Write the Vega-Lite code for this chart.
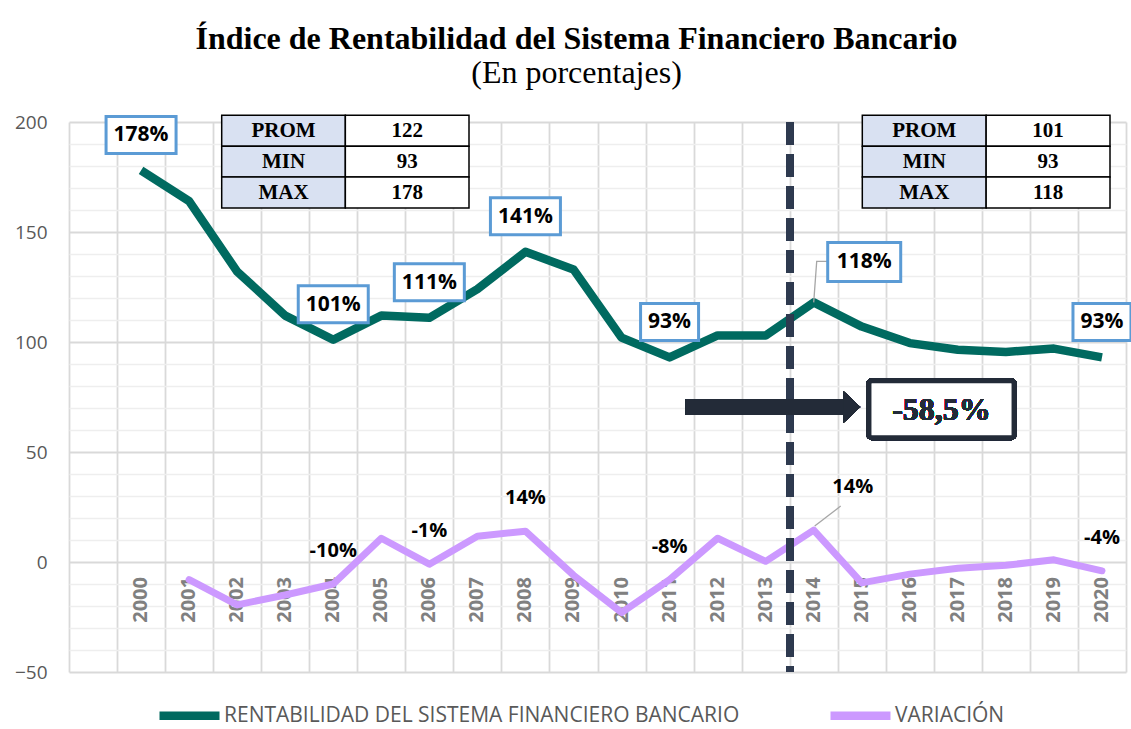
{
  "$schema": "https://vega.github.io/schema/vega-lite/v6.json",
  "width": 1057,
  "height": 550,
  "autosize": {"type": "none"},
  "padding": {"left": 69, "top": 122, "right": 5, "bottom": 57},
  "background": "white",
  "config": {"view": {"stroke": null}},
  "title": {
    "text": "Índice de Rentabilidad del Sistema Financiero Bancario",
    "subtitle": "(En porcentajes)",
    "anchor": "middle",
    "dx": -21,
    "offset": 20,
    "font": "Liberation Serif",
    "fontSize": 32,
    "fontWeight": "bold",
    "color": "black",
    "subtitleFont": "Liberation Serif",
    "subtitleFontSize": 32,
    "subtitleFontWeight": "normal",
    "subtitleColor": "black",
    "subtitlePadding": 2
  },
  "datasets": {
    "series": [
      {"anio": 2000, "serie": "RENTABILIDAD DEL SISTEMA FINANCIERO BANCARIO", "valor": 178, "etiqueta": "178%"},
      {"anio": 2001, "serie": "RENTABILIDAD DEL SISTEMA FINANCIERO BANCARIO", "valor": 164, "etiqueta": null},
      {"anio": 2002, "serie": "RENTABILIDAD DEL SISTEMA FINANCIERO BANCARIO", "valor": 132, "etiqueta": null},
      {"anio": 2003, "serie": "RENTABILIDAD DEL SISTEMA FINANCIERO BANCARIO", "valor": 112, "etiqueta": null},
      {"anio": 2004, "serie": "RENTABILIDAD DEL SISTEMA FINANCIERO BANCARIO", "valor": 101, "etiqueta": "101%"},
      {"anio": 2005, "serie": "RENTABILIDAD DEL SISTEMA FINANCIERO BANCARIO", "valor": 112, "etiqueta": null},
      {"anio": 2006, "serie": "RENTABILIDAD DEL SISTEMA FINANCIERO BANCARIO", "valor": 111, "etiqueta": "111%"},
      {"anio": 2007, "serie": "RENTABILIDAD DEL SISTEMA FINANCIERO BANCARIO", "valor": 124, "etiqueta": null},
      {"anio": 2008, "serie": "RENTABILIDAD DEL SISTEMA FINANCIERO BANCARIO", "valor": 141, "etiqueta": "141%"},
      {"anio": 2009, "serie": "RENTABILIDAD DEL SISTEMA FINANCIERO BANCARIO", "valor": 133, "etiqueta": null},
      {"anio": 2010, "serie": "RENTABILIDAD DEL SISTEMA FINANCIERO BANCARIO", "valor": 102, "etiqueta": null},
      {"anio": 2011, "serie": "RENTABILIDAD DEL SISTEMA FINANCIERO BANCARIO", "valor": 93, "etiqueta": "93%"},
      {"anio": 2012, "serie": "RENTABILIDAD DEL SISTEMA FINANCIERO BANCARIO", "valor": 103, "etiqueta": null},
      {"anio": 2013, "serie": "RENTABILIDAD DEL SISTEMA FINANCIERO BANCARIO", "valor": 103, "etiqueta": null},
      {"anio": 2014, "serie": "RENTABILIDAD DEL SISTEMA FINANCIERO BANCARIO", "valor": 118, "etiqueta": "118%"},
      {"anio": 2015, "serie": "RENTABILIDAD DEL SISTEMA FINANCIERO BANCARIO", "valor": 107, "etiqueta": null},
      {"anio": 2016, "serie": "RENTABILIDAD DEL SISTEMA FINANCIERO BANCARIO", "valor": 99.5, "etiqueta": null},
      {"anio": 2017, "serie": "RENTABILIDAD DEL SISTEMA FINANCIERO BANCARIO", "valor": 96.5, "etiqueta": null},
      {"anio": 2018, "serie": "RENTABILIDAD DEL SISTEMA FINANCIERO BANCARIO", "valor": 95.5, "etiqueta": null},
      {"anio": 2019, "serie": "RENTABILIDAD DEL SISTEMA FINANCIERO BANCARIO", "valor": 97, "etiqueta": null},
      {"anio": 2020, "serie": "RENTABILIDAD DEL SISTEMA FINANCIERO BANCARIO", "valor": 93, "etiqueta": "93%"},
      {"anio": 2001, "serie": "VARIACIÓN", "valor": -8, "etiqueta": null},
      {"anio": 2002, "serie": "VARIACIÓN", "valor": -19.5, "etiqueta": null},
      {"anio": 2003, "serie": "VARIACIÓN", "valor": -15, "etiqueta": null},
      {"anio": 2004, "serie": "VARIACIÓN", "valor": -10, "etiqueta": "-10%"},
      {"anio": 2005, "serie": "VARIACIÓN", "valor": 10.8, "etiqueta": null},
      {"anio": 2006, "serie": "VARIACIÓN", "valor": -1, "etiqueta": "-1%"},
      {"anio": 2007, "serie": "VARIACIÓN", "valor": 11.7, "etiqueta": null},
      {"anio": 2008, "serie": "VARIACIÓN", "valor": 14, "etiqueta": "14%"},
      {"anio": 2009, "serie": "VARIACIÓN", "valor": -6, "etiqueta": null},
      {"anio": 2010, "serie": "VARIACIÓN", "valor": -23, "etiqueta": null},
      {"anio": 2011, "serie": "VARIACIÓN", "valor": -8, "etiqueta": "-8%"},
      {"anio": 2012, "serie": "VARIACIÓN", "valor": 10.8, "etiqueta": null},
      {"anio": 2013, "serie": "VARIACIÓN", "valor": 0.3, "etiqueta": null},
      {"anio": 2014, "serie": "VARIACIÓN", "valor": 14.5, "etiqueta": "14%"},
      {"anio": 2015, "serie": "VARIACIÓN", "valor": -9.5, "etiqueta": null},
      {"anio": 2016, "serie": "VARIACIÓN", "valor": -5.5, "etiqueta": null},
      {"anio": 2017, "serie": "VARIACIÓN", "valor": -2.8, "etiqueta": null},
      {"anio": 2018, "serie": "VARIACIÓN", "valor": -1.5, "etiqueta": null},
      {"anio": 2019, "serie": "VARIACIÓN", "valor": 1, "etiqueta": null},
      {"anio": 2020, "serie": "VARIACIÓN", "valor": -4, "etiqueta": "-4%"}
    ],
    "stats": [
      {"tabla": "2000-2013", "stat": "PROM", "valor": 122},
      {"tabla": "2000-2013", "stat": "MIN", "valor": 93},
      {"tabla": "2000-2013", "stat": "MAX", "valor": 178},
      {"tabla": "2014-2020", "stat": "PROM", "valor": 101},
      {"tabla": "2014-2020", "stat": "MIN", "valor": 93},
      {"tabla": "2014-2020", "stat": "MAX", "valor": 118}
    ]
  },
  "resolve": {"scale": {"x": "independent", "y": "independent"}},
  "layer": [
    {
      "data": {"name": "series"},
      "transform": [{"filter": "datum.serie === 'RENTABILIDAD DEL SISTEMA FINANCIERO BANCARIO'"}],
      "mark": {"type": "text", "angle": 270, "align": "right", "baseline": "middle", "dx": -15, "font": "Open Sans", "fontWeight": "bold", "fontSize": 20, "color": "#808080"},
      "encoding": {
        "x": {
          "field": "anio", "type": "quantitative",
          "scale": {"domain": [1998.5, 2020.5], "nice": false, "zero": false},
          "axis": null
        },
        "y": {
          "datum": 0, "type": "quantitative",
          "scale": {"domain": [-50, 200], "nice": false, "zero": false},
          "axis": {
            "orient": "left", "title": null, "labels": false, "ticks": false, "domain": false, "grid": true,
            "values": [-40,-30,-20,-10,10,20,30,40,60,70,80,90,110,120,130,140,160,170,180,190],
            "gridColor": "#EEEEEE", "gridWidth": 1.4
          }
        },
        "text": {"field": "anio", "type": "nominal"}
      }
    },
    {
      "data": {"name": "series"},
      "layer": [
        {
          "transform": [{"filter": "datum.serie === 'RENTABILIDAD DEL SISTEMA FINANCIERO BANCARIO'"}],
          "mark": {"type": "line", "strokeWidth": 8.5, "strokeJoin": "round"},
          "encoding": {
            "x": {
              "field": "anio", "type": "quantitative",
              "scale": {"domain": [1998.5, 2020.5], "nice": false, "zero": false},
              "axis": {
                "orient": "bottom", "title": null, "labels": false, "ticks": false, "domain": false, "grid": true,
                "values": [1998.5,1999,1999.5,2000,2000.5,2001,2001.5,2002,2002.5,2003,2003.5,2004,2004.5,2005,2005.5,2006,2006.5,2007,2007.5,2008,2008.5,2009,2009.5,2010,2010.5,2011,2011.5,2012,2012.5,2013,2013.5,2014,2014.5,2015,2015.5,2016,2016.5,2017,2017.5,2018,2018.5,2019,2019.5,2020,2020.5],
                "gridColor": {"condition": {"test": "datum.value % 1 !== 0", "value": "#D9D9D9"}, "value": "#EEEEEE"},
                "gridWidth": {"condition": {"test": "datum.value % 1 !== 0", "value": 1.8}, "value": 1.4}
              }
            },
            "y": {
              "field": "valor", "type": "quantitative",
              "scale": {"domain": [-50, 200], "nice": false, "zero": false},
              "axis": {
                "orient": "left", "title": null, "ticks": false, "domain": false, "grid": true,
                "values": [-50, 0, 50, 100, 150, 200],
                "labelOverlap": false,
                "labelFont": "Open Sans", "labelFontSize": 19, "labelColor": "#595959", "labelPadding": 22,
                "gridColor": "#D9D9D9", "gridWidth": 1.8
              }
            },
            "color": {
              "field": "serie", "type": "nominal",
              "scale": {"domain": ["RENTABILIDAD DEL SISTEMA FINANCIERO BANCARIO", "VARIACIÓN"], "range": ["#006A60", "#CC99FF"]},
              "legend": {
                "title": null, "orient": "none", "legendX": 86, "legendY": 559, "direction": "horizontal",
                "symbolType": "stroke", "symbolSize": 3600, "symbolStrokeWidth": 8.5,
                "labelFont": "Open Sans", "labelFontSize": 21, "labelColor": "#595959", "labelOffset": 0,
                "labelLimit": 800, "columnPadding": 73
              }
            }
          }
        },
        {
          "transform": [{"filter": "datum.serie === 'VARIACIÓN'"}],
          "mark": {"type": "line", "strokeWidth": 7, "strokeJoin": "round", "strokeCap": "round"},
          "encoding": {
            "x": {"field": "anio", "type": "quantitative"},
            "y": {"field": "valor", "type": "quantitative"},
            "color": {"field": "serie", "type": "nominal"}
          }
        },
        {
          "mark": {"type": "rule", "color": "#2E3A4F", "strokeWidth": 7, "strokeDash": [23, 9]},
          "encoding": {"x": {"datum": 2013.5, "type": "quantitative"}}
        },
        {
          "mark": {"type": "rule", "color": "#232B38", "strokeWidth": 16},
          "encoding": {
            "x": {"datum": 2011.34, "type": "quantitative"},
            "x2": {"datum": 2014.65},
            "y": {"datum": 70.4, "type": "quantitative"}
          }
        },
        {
          "mark": {"type": "point", "shape": "M-8.5,-16L8.5,0L-8.5,16Z", "size": 4, "filled": true, "color": "#232B38", "opacity": 1},
          "encoding": {
            "x": {"datum": 2014.79, "type": "quantitative"},
            "y": {"datum": 70.4, "type": "quantitative"}
          }
        },
        {
          "mark": {"type": "rect", "fill": "white", "stroke": "#232B38", "strokeWidth": 5, "cornerRadius": 3},
          "encoding": {
            "x": {"datum": 2015.15, "type": "quantitative"},
            "x2": {"datum": 2018.17},
            "y": {"datum": 82.4, "type": "quantitative"},
            "y2": {"datum": 56.5}
          }
        },
        {
          "mark": {"type": "text", "text": "-58,5%", "font": "Liberation Serif", "fontWeight": "bold", "fontSize": 32, "color": "#232B38", "baseline": "middle", "align": "center"},
          "encoding": {
            "x": {"datum": 2016.66, "type": "quantitative"},
            "y": {"datum": 69.3, "type": "quantitative"}
          }
        },
        {
          "transform": [{"filter": "datum.serie === 'RENTABILIDAD DEL SISTEMA FINANCIERO BANCARIO' && datum.etiqueta && datum.anio !== 2014"}],
          "mark": {"type": "point", "size": 4, "filled": true, "fill": "white", "stroke": "#5B9BD5", "strokeWidth": 3, "opacity": 1, "fillOpacity": 1, "strokeOpacity": 1},
          "encoding": {
            "x": {"field": "anio", "type": "quantitative"},
            "y": {"field": "valor", "type": "quantitative"},
            "shape": {"condition": {"test": "length(datum.etiqueta) > 3", "value": "M-35,-54H35V-17H-35Z"}, "value": "M-29,-54H29V-17H-29Z"}
          }
        },
        {
          "transform": [{"filter": "datum.serie === 'RENTABILIDAD DEL SISTEMA FINANCIERO BANCARIO' && datum.etiqueta && datum.anio !== 2014"}],
          "mark": {"type": "text", "dy": -35, "font": "Open Sans", "fontWeight": "bold", "fontSize": 21, "color": "black", "baseline": "middle"},
          "encoding": {
            "x": {"field": "anio", "type": "quantitative"},
            "y": {"field": "valor", "type": "quantitative"},
            "text": {"field": "etiqueta", "type": "nominal"}
          }
        },
        {
          "transform": [{"filter": "datum.serie === 'RENTABILIDAD DEL SISTEMA FINANCIERO BANCARIO' && datum.anio === 2014"}],
          "mark": {"type": "point", "shape": "M0,0L3,-41L14,-41", "size": 4, "filled": false, "stroke": "#A6A6A6", "strokeWidth": 1.3, "opacity": 1},
          "encoding": {
            "x": {"field": "anio", "type": "quantitative"},
            "y": {"field": "valor", "type": "quantitative"}
          }
        },
        {
          "transform": [{"filter": "datum.serie === 'RENTABILIDAD DEL SISTEMA FINANCIERO BANCARIO' && datum.anio === 2014"}],
          "mark": {"type": "point", "shape": "M14,-60H87V-21H14Z", "size": 4, "filled": true, "fill": "white", "stroke": "#5B9BD5", "strokeWidth": 3, "opacity": 1},
          "encoding": {
            "x": {"field": "anio", "type": "quantitative"},
            "y": {"field": "valor", "type": "quantitative"}
          }
        },
        {
          "transform": [{"filter": "datum.serie === 'RENTABILIDAD DEL SISTEMA FINANCIERO BANCARIO' && datum.anio === 2014"}],
          "mark": {"type": "text", "dx": 50.5, "dy": -40, "font": "Open Sans", "fontWeight": "bold", "fontSize": 21, "color": "black", "baseline": "middle"},
          "encoding": {
            "x": {"field": "anio", "type": "quantitative"},
            "y": {"field": "valor", "type": "quantitative"},
            "text": {"field": "etiqueta", "type": "nominal"}
          }
        },
        {
          "transform": [{"filter": "datum.serie === 'VARIACIÓN' && datum.etiqueta && datum.anio !== 2014"}],
          "mark": {"type": "text", "dy": -33, "font": "Open Sans", "fontWeight": "bold", "fontSize": 20, "color": "black", "baseline": "middle"},
          "encoding": {
            "x": {"field": "anio", "type": "quantitative"},
            "y": {"field": "valor", "type": "quantitative"},
            "text": {"field": "etiqueta", "type": "nominal"}
          }
        },
        {
          "transform": [{"filter": "datum.serie === 'VARIACIÓN' && datum.anio === 2014"}],
          "mark": {"type": "point", "shape": "M1,-4L27,-24", "size": 4, "filled": false, "stroke": "#A6A6A6", "strokeWidth": 1.3, "opacity": 1},
          "encoding": {
            "x": {"field": "anio", "type": "quantitative"},
            "y": {"field": "valor", "type": "quantitative"}
          }
        },
        {
          "transform": [{"filter": "datum.serie === 'VARIACIÓN' && datum.anio === 2014"}],
          "mark": {"type": "text", "dx": 39, "dy": -43, "font": "Open Sans", "fontWeight": "bold", "fontSize": 20, "color": "black", "baseline": "middle"},
          "encoding": {
            "x": {"field": "anio", "type": "quantitative"},
            "y": {"field": "valor", "type": "quantitative"},
            "text": {"field": "etiqueta", "type": "nominal"}
          }
        }
      ]
    },
    {
      "data": {"name": "stats"},
      "transform": [
        {"filter": "datum.tabla === '2000-2013'"},
        {"fold": ["stat", "valor"], "as": ["col", "texto"]}
      ],
      "encoding": {
        "x": {"field": "col", "type": "nominal", "scale": {"domain": ["stat", "valor"], "range": [152.7, 400], "paddingInner": 0, "paddingOuter": 0}, "axis": null},
        "y": {"field": "stat", "type": "nominal", "scale": {"domain": ["PROM", "MIN", "MAX"], "range": [-6.7, 86], "paddingInner": 0, "paddingOuter": 0}, "axis": null}
      },
      "layer": [
        {
          "mark": {"type": "rect", "stroke": "black", "strokeWidth": 1.5},
          "encoding": {"fill": {"condition": {"test": "datum.col === 'stat'", "value": "#D9E1F2"}, "value": "white"}}
        },
        {
          "mark": {"type": "text", "font": "Liberation Serif", "fontWeight": "bold", "fontSize": 21, "color": "black", "baseline": "middle"},
          "encoding": {"text": {"field": "texto", "type": "nominal"}}
        }
      ]
    },
    {
      "data": {"name": "stats"},
      "transform": [
        {"filter": "datum.tabla === '2014-2020'"},
        {"fold": ["stat", "valor"], "as": ["col", "texto"]}
      ],
      "encoding": {
        "x": {"field": "col", "type": "nominal", "scale": {"domain": ["stat", "valor"], "range": [793.3, 1041], "paddingInner": 0, "paddingOuter": 0}, "axis": null},
        "y": {"field": "stat", "type": "nominal", "scale": {"domain": ["PROM", "MIN", "MAX"], "range": [-6.7, 86], "paddingInner": 0, "paddingOuter": 0}, "axis": null}
      },
      "layer": [
        {
          "mark": {"type": "rect", "stroke": "black", "strokeWidth": 1.5},
          "encoding": {"fill": {"condition": {"test": "datum.col === 'stat'", "value": "#D9E1F2"}, "value": "white"}}
        },
        {
          "mark": {"type": "text", "font": "Liberation Serif", "fontWeight": "bold", "fontSize": 21, "color": "black", "baseline": "middle"},
          "encoding": {"text": {"field": "texto", "type": "nominal"}}
        }
      ]
    }
  ]
}
